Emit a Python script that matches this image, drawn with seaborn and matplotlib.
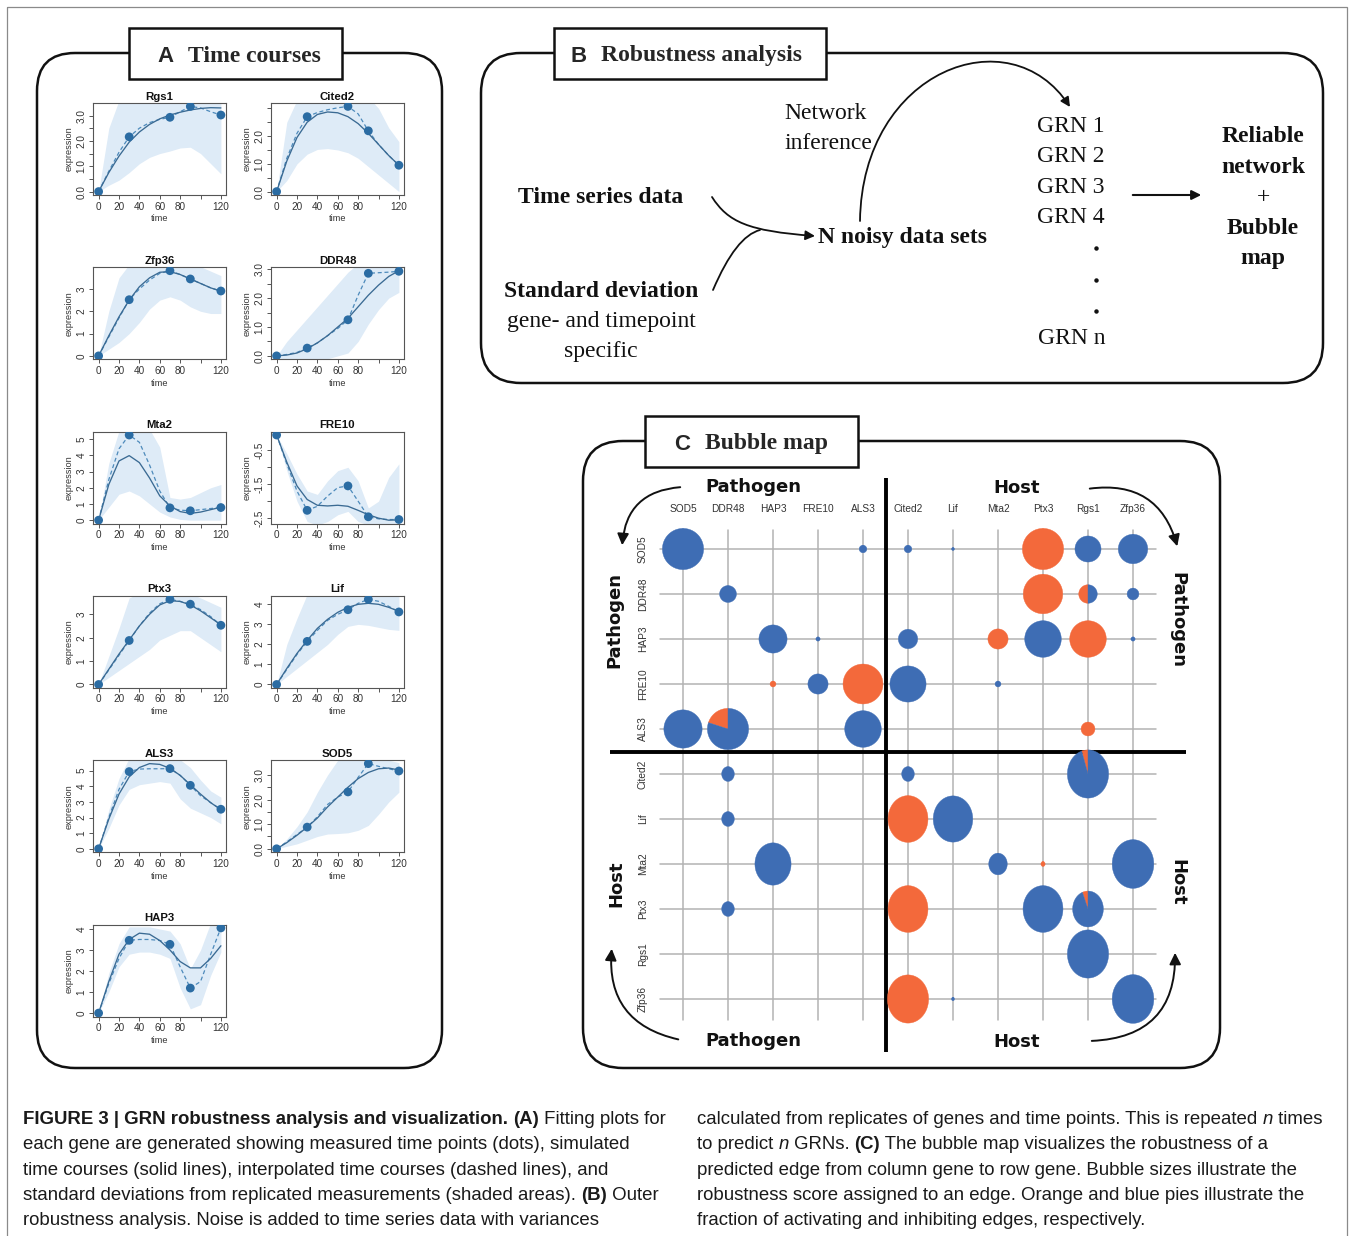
import numpy as np
import matplotlib
matplotlib.use("Agg")
import matplotlib.pyplot as plt
import seaborn as sns
from matplotlib.patches import FancyBboxPatch, Rectangle, Polygon, FancyArrowPatch
from matplotlib.path import Path

# ---------------- data: time courses ----------------
T_MEAS = [0, 30, 70, 90, 120]
T_GRID = [0, 10, 20, 30, 40, 50, 60, 70, 80, 90, 100, 110, 120]

GENES = ["Rgs1", "Cited2", "Zfp36", "DDR48", "Mta2", "FRE10",
         "Ptx3", "Lif", "ALS3", "SOD5", "HAP3"]

RGS1_PTS = [0, 2.16, 2.93, 3.36, 3.02]
RGS1_FIT = [0, 0.75, 1.4, 1.95, 2.35, 2.65, 2.87, 3.02, 3.13, 3.22, 3.28, 3.31, 3.3]
RGS1_INT = [0, 0.8, 1.55, 2.16, 2.5, 2.72, 2.85, 2.93, 3.15, 3.36, 3.3, 3.15, 3.02]
RGS1_LO = [0, 0.25, 0.45, 0.75, 1.1, 1.35, 1.5, 1.6, 1.72, 1.75, 1.5, 1.1, 0.7]
RGS1_HI = [0, 2.5, 3.6, 4, 4, 4, 4, 4, 4, 4, 4, 3.9, 3.6]

CITED2_PTS = [0, 2.70, 3.07, 2.19, 0.95]
CITED2_FIT = [0, 1.1, 1.95, 2.5, 2.78, 2.87, 2.84, 2.7, 2.45, 2.1, 1.7, 1.3, 0.95]
CITED2_INT = [0, 1.2, 2.1, 2.7, 2.85, 2.95, 3.02, 3.07, 2.8, 2.19, 1.7, 1.3, 0.95]
CITED2_LO = [0, 0.4, 1.0, 1.35, 1.52, 1.55, 1.5, 1.4, 1.2, 0.9, 0.6, 0.3, 0.0]
CITED2_HI = [0, 2.5, 3.3, 3.5, 3.5, 3.5, 3.5, 3.5, 3.5, 3.4, 3.0, 2.3, 1.8]

ZFP36_PTS = [0, 2.52, 3.82, 3.45, 2.91]
ZFP36_FIT = [0, 0.9, 1.75, 2.5, 3.1, 3.5, 3.75, 3.78, 3.65, 3.45, 3.25, 3.05, 2.9]
ZFP36_INT = [0, 0.85, 1.7, 2.52, 3.0, 3.4, 3.7, 3.82, 3.65, 3.45, 3.25, 3.05, 2.91]
ZFP36_LO = [0, 0.3, 0.6, 1.0, 1.5, 2.1, 2.5, 2.65, 2.5, 2.2, 2.0, 1.9, 1.9]
ZFP36_HI = [0, 2.0, 3.5, 4.1, 4.1, 4.1, 4.1, 4.1, 4.1, 4.1, 4.0, 3.8, 3.6]

DDR48_PTS = [0, 0.27, 1.25, 2.86, 2.93]
DDR48_FIT = [0, 0.03, 0.1, 0.25, 0.45, 0.7, 1.0, 1.3, 1.7, 2.1, 2.45, 2.75, 2.95]
DDR48_INT = [0, 0.05, 0.12, 0.27, 0.45, 0.7, 0.95, 1.25, 2.1, 2.86, 2.88, 2.9, 2.93]
DDR48_LO = [0, -0.2, -0.3, -0.3, -0.2, -0.1, 0.0, 0.1, 0.5, 1.1, 1.6, 2.0, 2.2]
DDR48_HI = [0, 0.5, 0.9, 1.3, 1.7, 2.1, 2.5, 2.9, 3.2, 3.3, 3.3, 3.3, 3.3]

MTA2_PTS = [0, 5.25, 0.76, 0.58, 0.78]
MTA2_FIT = [0, 2.2, 3.65, 3.98, 3.55, 2.6, 1.5, 0.88, 0.53, 0.42, 0.5, 0.65, 0.8]
MTA2_INT = [0, 2.5, 4.4, 5.25, 4.8, 3.4, 1.8, 0.76, 0.62, 0.58, 0.65, 0.72, 0.78]
MTA2_LO = [0, 0.8, 1.6, 1.8, 1.5, 1.0, 0.5, 0.2, 0.05, 0, 0, 0, 0]
MTA2_HI = [0, 3.5, 5.5, 5.6, 5.6, 5.6, 4.5, 1.4, 1.3, 1.4, 1.7, 2.0, 2.2]

FRE10_PTS = [-0.05, -2.27, -1.55, -2.46, -2.54]
FRE10_FIT = [-0.05, -0.85, -1.55, -1.95, -2.12, -2.14, -2.12, -2.15, -2.27, -2.4, -2.5, -2.56, -2.55]
FRE10_INT = [-0.05, -0.9, -1.7, -2.27, -2.15, -1.85, -1.6, -1.55, -2.0, -2.46, -2.52, -2.54, -2.54]
FRE10_LO = [-0.05, -1.1, -2.0, -2.6, -2.7, -2.6, -2.4, -2.3, -2.6, -2.7, -2.7, -2.7, -2.7]
FRE10_HI = [-0.05, -0.6, -1.2, -1.7, -1.8, -1.4, -1.1, -1.0, -1.4, -2.2, -2.0, -1.3, -0.9]

PTX3_PTS = [0, 1.88, 3.64, 3.43, 2.53]
PTX3_FIT = [0, 0.65, 1.3, 1.9, 2.5, 3.0, 3.4, 3.58, 3.55, 3.4, 3.15, 2.85, 2.55]
PTX3_INT = [0, 0.62, 1.25, 1.88, 2.5, 3.05, 3.45, 3.64, 3.55, 3.43, 3.2, 2.9, 2.53]
PTX3_LO = [0, 0.3, 0.6, 0.9, 1.2, 1.5, 1.9, 2.1, 2.3, 2.3, 2.0, 1.7, 1.4]
PTX3_HI = [0, 1.2, 2.4, 3.7, 3.9, 3.9, 3.9, 3.9, 3.9, 3.9, 3.7, 3.5, 3.3]

LIF_PTS = [0, 2.15, 3.73, 4.25, 3.62]
LIF_FIT = [0, 0.8, 1.55, 2.2, 2.8, 3.25, 3.6, 3.85, 4.0, 4.05, 4.0, 3.85, 3.65]
LIF_INT = [0, 0.75, 1.5, 2.15, 2.7, 3.2, 3.5, 3.73, 4.05, 4.25, 4.15, 3.9, 3.62]
LIF_LO = [0, 0.4, 0.8, 1.2, 1.6, 2.0, 2.5, 2.9, 3.0, 2.95, 2.85, 2.75, 2.7]
LIF_HI = [0, 2.0, 3.3, 4.5, 4.6, 4.6, 4.6, 4.6, 4.6, 4.6, 4.6, 4.6, 4.6]

ALS3_PTS = [0, 4.94, 5.13, 4.06, 2.53]
ALS3_FIT = [0, 1.9, 3.5, 4.6, 5.2, 5.45, 5.4, 5.15, 4.7, 4.1, 3.5, 2.95, 2.5]
ALS3_INT = [0, 2.0, 3.8, 4.94, 5.1, 5.12, 5.12, 5.13, 4.7, 4.06, 3.4, 2.95, 2.53]
ALS3_LO = [0, 1.3, 2.8, 3.8, 4.1, 4.2, 4.3, 4.2, 3.2, 2.6, 2.3, 2.0, 1.6]
ALS3_HI = [0, 2.5, 4.5, 5.8, 5.8, 5.8, 5.8, 5.8, 5.7, 5.2, 4.4, 3.7, 3.3]

SOD5_PTS = [0, 0.88, 2.31, 3.46, 3.16]
SOD5_FIT = [0, 0.25, 0.55, 0.88, 1.25, 1.7, 2.1, 2.5, 2.85, 3.1, 3.25, 3.28, 3.2]
SOD5_INT = [0, 0.28, 0.58, 0.88, 1.3, 1.8, 2.1, 2.31, 2.9, 3.46, 3.35, 3.25, 3.16]
SOD5_LO = [0, 0.1, 0.2, 0.35, 0.5, 0.6, 0.62, 0.65, 0.75, 0.95, 1.4, 1.9, 2.3]
SOD5_HI = [0, 0.4, 0.9, 1.5, 2.3, 3.0, 3.6, 3.6, 3.6, 3.6, 3.6, 3.6, 3.5]

HAP3_PTS = [0, 3.46, 3.27, 1.19, 4.05]
HAP3_FIT = [0, 1.5, 2.8, 3.5, 3.8, 3.75, 3.45, 3.0, 2.45, 2.15, 2.15, 2.6, 3.2]
HAP3_INT = [0, 1.4, 2.6, 3.46, 3.5, 3.5, 3.45, 3.27, 2.2, 1.19, 1.5, 2.8, 4.05]
HAP3_LO = [0, 1.0, 2.2, 2.8, 2.9, 2.9, 2.8, 2.6, 1.2, 0.2, 0.4, 1.8, 2.9]
HAP3_HI = [0, 1.9, 3.3, 4.1, 4.1, 4.1, 4.0, 3.9, 3.3, 2.1, 3.0, 4.3, 4.3]

X_TICKS = [0, 20, 40, 60, 80, 100, 120]
X_TICKLABELS = ["0", "20", "40", "60", "80", "", "120"]

HALF = [0, 0.5, 1.0, 1.5, 2.0, 2.5, 3.0]
Y_TICKS = [HALF, HALF, [0, 1, 2, 3], HALF, [0, 1, 2, 3, 4, 5],
           [-2.5, -2.0, -1.5, -1.0, -0.5], [0, 1, 2, 3], [0, 1, 2, 3, 4],
           [0, 1, 2, 3, 4, 5], HALF, [0, 1, 2, 3, 4]]
Y_LABELED = [[0, 1, 2, 3], [0, 1, 2], [0, 1, 2, 3], [0, 1, 2, 3], [0, 1, 2, 3, 4, 5],
             [-2.5, -1.5, -0.5], [0, 1, 2, 3], [0, 1, 2, 3, 4],
             [0, 1, 2, 3, 4, 5], [0, 1, 2, 3], [0, 1, 2, 3, 4]]
Y_DECIMAL = [True, True, False, True, False, True, False, False, False, True, False]

SERIES = [
    (RGS1_PTS, RGS1_FIT, RGS1_INT, RGS1_LO, RGS1_HI),
    (CITED2_PTS, CITED2_FIT, CITED2_INT, CITED2_LO, CITED2_HI),
    (ZFP36_PTS, ZFP36_FIT, ZFP36_INT, ZFP36_LO, ZFP36_HI),
    (DDR48_PTS, DDR48_FIT, DDR48_INT, DDR48_LO, DDR48_HI),
    (MTA2_PTS, MTA2_FIT, MTA2_INT, MTA2_LO, MTA2_HI),
    (FRE10_PTS, FRE10_FIT, FRE10_INT, FRE10_LO, FRE10_HI),
    (PTX3_PTS, PTX3_FIT, PTX3_INT, PTX3_LO, PTX3_HI),
    (LIF_PTS, LIF_FIT, LIF_INT, LIF_LO, LIF_HI),
    (ALS3_PTS, ALS3_FIT, ALS3_INT, ALS3_LO, ALS3_HI),
    (SOD5_PTS, SOD5_FIT, SOD5_INT, SOD5_LO, SOD5_HI),
    (HAP3_PTS, HAP3_FIT, HAP3_INT, HAP3_LO, HAP3_HI),
]

# ---------------- data: bubble map ----------------
BUB_GENES = ["SOD5", "DDR48", "HAP3", "FRE10", "ALS3",
             "Cited2", "Lif", "Mta2", "Ptx3", "Rgs1", "Zfp36"]
BUB_ROW = [0, 0, 0, 0, 0, 0, 0,
           1, 1, 1, 1,
           2, 2, 2, 2, 2, 2, 2,
           3, 3, 3, 3, 3,
           4, 4, 4, 4,
           5, 5, 5,
           6, 6, 6,
           7, 7, 7, 7,
           8, 8, 8, 8,
           9,
           10, 10, 10]
BUB_COL = [0, 4, 5, 6, 8, 9, 10,
           1, 8, 9, 10,
           2, 3, 5, 7, 8, 9, 10,
           2, 3, 4, 5, 7,
           0, 1, 4, 9,
           1, 5, 9,
           1, 5, 6,
           2, 7, 8, 10,
           1, 5, 8, 9,
           9,
           5, 6, 10]
BUB_SCORE = [0.98, 0.18, 0.18, 0.07, 0.98, 0.62, 0.70,
             0.40, 0.94, 0.44, 0.28,
             0.67, 0.10, 0.46, 0.48, 0.87, 0.87, 0.10,
             0.14, 0.48, 0.95, 0.86, 0.14,
             0.91, 0.98, 0.87, 0.33,
             0.30, 0.30, 0.98,
             0.30, 0.95, 0.94,
             0.86, 0.44, 0.10, 0.99,
             0.30, 0.95, 0.95, 0.73,
             0.98,
             0.98, 0.07, 0.99]
BUB_ACT = [0, 0, 0, 0, 1, 0, 0,
           0, 1, 0.5, 0,
           0, 0, 0, 1, 0, 1, 0,
           1, 0, 1, 0, 0,
           0, 0.2, 0, 1,
           0, 0, 0.05,
           0, 1, 0,
           0, 0, 1, 0,
           0, 1, 0, 0.06,
           0,
           1, 0, 0]

# ---------------- caption ----------------
CAP_LEFT = [
    [("FIGURE 3 | GRN robustness analysis and visualization.", "b"), (" ", "r"), ("(A)", "b"), (" Fitting plots for", "r")],
    [("each gene are generated showing measured time points (dots), simulated", "r")],
    [("time courses (solid lines), interpolated time courses (dashed lines), and", "r")],
    [("standard deviations from replicated measurements (shaded areas). ", "r"), ("(B)", "b"), (" Outer", "r")],
    [("robustness analysis. Noise is added to time series data with variances", "r")],
]
CAP_RIGHT = [
    [("calculated from replicates of genes and time points. This is repeated ", "r"), ("n", "i"), (" times", "r")],
    [("to predict ", "r"), ("n", "i"), (" GRNs. ", "r"), ("(C)", "b"), (" The bubble map visualizes the robustness of a", "r")],
    [("predicted edge from column gene to row gene. Bubble sizes illustrate the", "r")],
    [("robustness score assigned to an edge. Orange and blue pies illustrate the", "r")],
    [("fraction of activating and inhibiting edges, respectively.", "r")],
]

# ---------------- style ----------------
sns.set_theme(style="white")
plt.rcParams["font.family"] = ["Liberation Sans", "DejaVu Sans"]

PT_COL = "#2b6ca3"
FIT_COL = "#3a6a93"
INT_COL = "#4d8abb"
BAND_COL = "#deebf7"
ORANGE = "#f3693b"
BLUE = "#3e6db4"
SERIF = ["Liberation Serif", "DejaVu Serif"]

W, H = 1354, 1236
fig = plt.figure(figsize=(W / 100, H / 100), dpi=100)
fig.patch.set_facecolor("white")


def px_axes(x0, y0, x1, y1):
    return fig.add_axes([x0 / W, 1 - y1 / H, (x1 - x0) / W, (y1 - y0) / H])


bg = px_axes(0, 0, W, H)
bg.set_xlim(0, W)
bg.set_ylim(H, 0)
bg.axis("off")

# outer frame
bg.add_patch(Rectangle((7, 7), 1340, 1250, fill=False, ec="#8a8a8a", lw=0.9))


def frame(x0, y0, x1, y1, r):
    bg.add_patch(FancyBboxPatch((x0, y0), x1 - x0, y1 - y0,
                                boxstyle=f"round,pad=0,rounding_size={r}",
                                fill=False, ec="#111111", lw=1.8, zorder=1))


def title_box(x0, y0, x1, y1, letter, lx, text, tx):
    bg.add_patch(Rectangle((x0, y0), x1 - x0, y1 - y0, fc="white", ec="#111111", lw=1.8, zorder=2))
    yc = (y0 + y1) / 2 + 8
    bg.text(lx, yc, letter, ha="center", va="baseline", fontsize=16, fontweight="bold",
            family=["Liberation Sans", "DejaVu Sans"], zorder=3)
    bg.text(tx, yc, text, ha="left", va="baseline", fontsize=17, fontweight="bold",
            family=SERIF, zorder=3)


frame(37, 53, 442, 1068, 38)
frame(481, 53, 1323, 383, 40)
frame(583, 441, 1220, 1068, 40)
title_box(129, 28, 342, 79, "A", 166, "Time courses", 188)
title_box(554, 28, 826, 79, "B", 579, "Robustness analysis", 601)
title_box(645, 416, 858, 467, "C", 682, "Bubble map", 705)

# ---------------- panel A: time courses ----------------
for i, gene in enumerate(GENES):
    pts, fit, itp, lo, hi = SERIES[i]
    col, row = i % 2, i // 2
    x0 = [93, 271][col]
    top = 103 + 164.3 * row
    ax = px_axes(x0, top, x0 + 133, top + 92)
    ax.fill_between(T_GRID, lo, hi, color=BAND_COL, lw=0, zorder=1)
    sns.lineplot(x=T_GRID, y=itp, ax=ax, color=INT_COL, lw=0.9,
                 linestyle=(0, (3.2, 2.2)), errorbar=None, zorder=2)
    sns.lineplot(x=T_GRID, y=fit, ax=ax, color=FIT_COL, lw=0.95, errorbar=None, zorder=3)
    sns.scatterplot(x=T_MEAS, y=pts, ax=ax, s=40, color=PT_COL, edgecolor="none", zorder=4)
    allv = list(pts) + list(fit) + list(itp)
    vmin, vmax = min(allv), max(allv)
    rng = vmax - vmin
    ax.set_ylim(vmin - 0.04 * rng, vmax + 0.04 * rng)
    ax.set_xlim(-5.5, 125)
    ax.set_xticks(X_TICKS)
    ax.set_xticklabels(X_TICKLABELS)
    yt = Y_TICKS[i]
    labs = []
    for v in yt:
        if any(abs(v - w) < 1e-9 for w in Y_LABELED[i]):
            labs.append(f"{v:.1f}" if Y_DECIMAL[i] else f"{int(round(v))}")
        else:
            labs.append("")
    ax.set_yticks(yt)
    ax.set_yticklabels(labs, rotation=90, va="center")
    ax.tick_params(axis="both", direction="out", length=3.2, width=0.7, colors="#555555",
                   labelsize=7.2, pad=1.5, bottom=True, left=True, labelcolor="#333333")
    for s in ax.spines.values():
        s.set_color("#555555")
        s.set_linewidth(0.8)
    ax.set_title(gene, fontsize=8.2, fontweight="bold", pad=2.5, color="#111111")
    ax.set_xlabel("time", fontsize=6.6, labelpad=2, color="#333333")
    ax.set_ylabel("expression", fontsize=6.6, labelpad=2, color="#333333")
    ax.grid(False)

# ---------------- panel B: robustness analysis ----------------
FS_B = 17


def btxt(x, y, s, bold=False, ha="center"):
    bg.text(x, y + 8, s, ha=ha, va="baseline", fontsize=FS_B, family=SERIF,
            fontweight="bold" if bold else "normal", color="#111111")


btxt(826, 111, "Network")
btxt(828, 141, "inference")
btxt(601, 195, "Time series data", bold=True)
btxt(818, 235, "N noisy data sets", bold=True, ha="left")
btxt(601, 289, "Standard deviation", bold=True)
btxt(601, 319, "gene- and timepoint")
btxt(601, 349, "specific")
for k, yy in enumerate([124, 154, 185, 215]):
    btxt(1071, yy, f"GRN {k + 1}")
for yy in [248, 280, 311]:
    bg.plot([1096], [yy], marker="o", ms=2.2, color="#111111")
btxt(1072, 336, "GRN n")
for yy, s in zip([134, 165, 195, 226, 256], ["Reliable", "network", "+", "Bubble", "map"]):
    btxt(1263, yy, s, bold=(s != "+"))

p1 = Path([(712, 197), (728, 222), (748, 231), (815, 236)],
          [Path.MOVETO, Path.CURVE4, Path.CURVE4, Path.CURVE4])
bg.add_patch(FancyArrowPatch(path=p1, arrowstyle="-|>", mutation_scale=14, lw=1.3,
                             color="#111111", transform=bg.transData))
p2 = Path([(713, 290), (736, 236), (760, 230)], [Path.MOVETO, Path.CURVE3, Path.CURVE3])
bg.add_patch(FancyArrowPatch(path=p2, arrowstyle="-", lw=1.3, color="#111111",
                             transform=bg.transData))
p3 = Path([(860, 221), (862, 70), (1010, 15), (1070, 107)],
          [Path.MOVETO, Path.CURVE4, Path.CURVE4, Path.CURVE4])
bg.add_patch(FancyArrowPatch(path=p3, arrowstyle="-|>", mutation_scale=14, lw=1.3,
                             color="#111111", transform=bg.transData))
bg.add_patch(FancyArrowPatch((1130, 195), (1204, 195), arrowstyle="-|>", mutation_scale=14,
                             lw=1.5, color="#111111"))

# ---------------- panel C: bubble map ----------------
axc = px_axes(593, 459, 1223, 1089)
axc.set_xlim(-2, 12)
axc.set_ylim(12, -2)
axc.axis("off")
n = len(BUB_GENES)
for k in range(n):
    axc.plot([k, k], [-0.42, 10.47], color="#b3b3b3", lw=1.1, zorder=1)
    axc.plot([-0.51, 10.51], [k, k], color="#b3b3b3", lw=1.1, zorder=1)
    axc.text(k, -0.89, BUB_GENES[k], ha="center", va="center", fontsize=7.3, color="#333333")
    axc.text(-0.89, k, BUB_GENES[k], ha="center", va="center", rotation=90, fontsize=7.3,
             color="#333333")
axc.plot([4.5, 4.5], [-1.58, 11.18], color="#000000", lw=2.8, zorder=2, solid_capstyle="butt")
axc.plot([-1.62, 11.18], [4.5, 4.5], color="#000000", lw=2.8, zorder=2, solid_capstyle="butt")

R_MAX = 21 / 45


def pie(ax, cx, cy, r, frac, ystretch):
    split = 90.0 + 360.0 * frac
    for a, b, c in ((90.0, split, ORANGE), (split, 450.0, BLUE)):
        if b - a < 0.5:
            continue
        t = np.radians(np.linspace(a, b, max(int((b - a) / 3), 6)))
        xs = np.concatenate([[cx], cx + r * np.cos(t)])
        ys = np.concatenate([[cy], cy - r * ystretch * np.sin(t)])
        ax.add_patch(Polygon(np.column_stack([xs, ys]), closed=True, fc=c, ec=c, lw=0.3,
                             zorder=5))


for rr, cc, sc, fr in zip(BUB_ROW, BUB_COL, BUB_SCORE, BUB_ACT):
    pie(axc, cc, rr, sc * R_MAX, fr, 1.17 if rr >= 5 else 1.0)

BIG = dict(fontsize=13, fontweight="bold", family=["DejaVu Sans"], color="#111111",
           ha="center", va="center")
bg.text(753, 487, "Pathogen", **BIG)
bg.text(1017, 488, "Host", **BIG)
bg.text(753, 1041, "Pathogen", **BIG)
bg.text(1017, 1042, "Host", **BIG)
bg.text(614, 620, "Pathogen", rotation=90, **BIG)
bg.text(616, 884, "Host", rotation=90, **BIG)
bg.text(1177, 620, "Pathogen", rotation=-90, **BIG)
bg.text(1177, 882, "Host", rotation=-90, **BIG)

for (a, b, rad) in [((683, 487), (622, 548), 0.45), ((1087, 489), (1178, 549), -0.45),
                    ((681, 1040), (612, 946), -0.45), ((1089, 1041), (1175, 950), 0.5)]:
    bg.add_patch(FancyArrowPatch(a, b, connectionstyle=f"arc3,rad={rad}", arrowstyle="-|>",
                                 mutation_scale=17, lw=1.4, color="#111111", zorder=4))

# ---------------- caption ----------------
renderer = fig.canvas.get_renderer()
CAP_FAM = ["Liberation Sans", "DejaVu Sans"]


def seg_props(kind, fs):
    return dict(fontsize=fs, family=CAP_FAM, fontweight="bold" if kind == "b" else "normal",
                fontstyle="italic" if kind == "i" else "normal")


def measure(s, kind, fs):
    t1 = bg.text(0, 0, "|" + s + "|", **seg_props(kind, fs))
    t2 = bg.text(0, 0, "||", **seg_props(kind, fs))
    w = t1.get_window_extent(renderer).width - t2.get_window_extent(renderer).width
    t1.remove()
    t2.remove()
    return w


fs0 = 12.0
w0 = measure(CAP_LEFT[1][0][0], "r", fs0)
FS_CAP = fs0 * 611.0 / w0

for col_x, lines in ((23, CAP_LEFT), (697, CAP_RIGHT)):
    for li, segs in enumerate(lines):
        yb = 1124 + 25.3 * li
        x = col_x
        for s, kind in segs:
            bg.text(x, yb, s, va="baseline", ha="left", color="#1a1a1a", **seg_props(kind, FS_CAP))
            x += measure(s, kind, FS_CAP)

fig.savefig("out.png", dpi=100, facecolor="white")
